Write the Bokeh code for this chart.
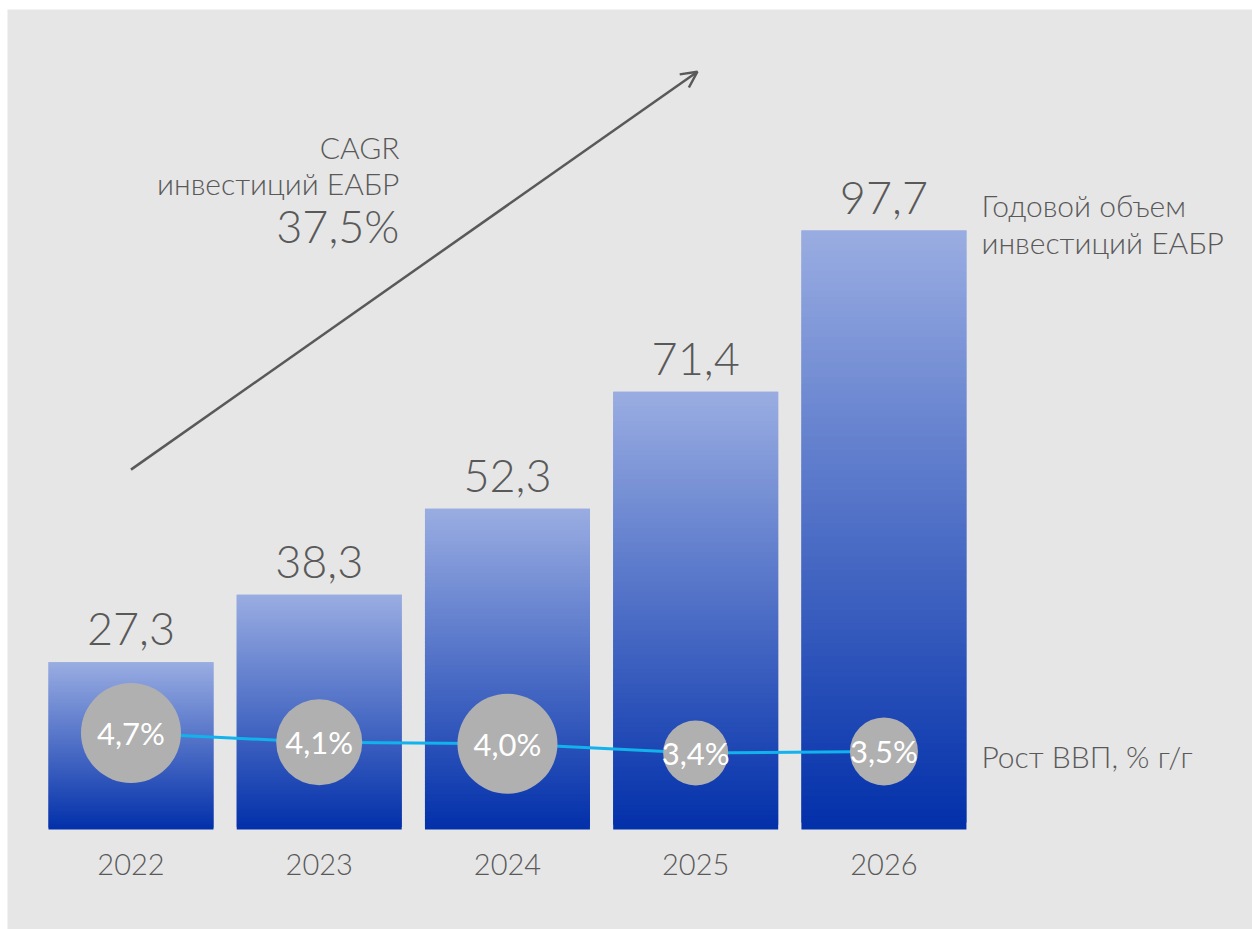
from bokeh.plotting import figure
from bokeh.models import Range1d, Arrow, OpenHead, ColumnDataSource
from bokeh.core.properties import value
from bokeh.embed import file_html
from bokeh.resources import INLINE

# ---- data ----
years = ["2022", "2023", "2024", "2025", "2026"]
investments = [27.3, 38.3, 52.3, 71.4, 97.7]          # Годовой объем инвестиций ЕАБР
gdp_growth = [4.7, 4.1, 4.0, 3.4, 3.5]                 # Рост ВВП, % г/г
gdp_labels = ["4,7%", "4,1%", "4,0%", "3,4%", "3,5%"]
inv_labels = ["27,3", "38,3", "52,3", "71,4", "97,7"]

# ---- styles ----
FONT = "Lato Light, Lato"
FONT_C = "Lato"
BG = "#e6e6e6"
TXT = "#595959"
TOP_C = (0x9a, 0xad, 0xe2)
BOT_C = (0x02, 0x30, 0xaa)
LINE_C = "#12b2ec"
CIRC_C = "#b0b0b0"
circle_sizes = [100, 86, 100, 65, 68]
BAR_W = 0.8765
W, H = 1252, 929

xs = list(range(len(years)))

p = figure(width=W, height=H, title=None,
           x_range=Range1d(-0.656, 5.958), y_range=Range1d(-16.31, 133.75),
           output_backend="svg", toolbar_location=None,
           x_axis_location=None, y_axis_location=None,
           min_border_left=7, min_border_top=9, min_border_right=0, min_border_bottom=0,
           background_fill_color=BG, border_fill_color="white", outline_line_color=None)
p.grid.visible = False
p.extra_y_ranges = {"gdp": Range1d(-8.076, 51.74)}

# ---- gradient bars (stacked overlapping slices, light at top, dark at bottom) ----
N = 90
L, R, B, T, C = [], [], [], [], []
for i, v in zip(xs, investments):
    for k in range(N):
        t = (k + 0.5) / N
        col = tuple(int(round(BOT_C[j] + (TOP_C[j] - BOT_C[j]) * t)) for j in range(3))
        L.append(i - BAR_W / 2)
        R.append(i + BAR_W / 2)
        B.append(v * k / N)
        T.append(v * min(k + 2, N) / N)
        C.append("#%02x%02x%02x" % col)
p.quad(left=L, right=R, bottom=B, top=T, fill_color=C, line_color=None)

# ---- bar value labels ----
src = ColumnDataSource(dict(x=xs, inv=investments, inv_lab=inv_labels, yr=years,
                            zero=[0] * len(xs), gdp=gdp_growth, gdp_lab=gdp_labels,
                            size=circle_sizes))
p.text(x="x", y="inv", text="inv_lab", source=src, text_align="center",
       text_baseline="alphabetic", y_offset=-33, text_font=value(FONT),
       text_font_size="45px", text_color=TXT)

# ---- year labels ----
p.text(x="x", y="zero", text="yr", source=src, text_align="center",
       text_baseline="alphabetic", y_offset=35, text_font=value(FONT),
       text_font_size="29px", text_color=TXT)

# ---- GDP growth line with circles ----
p.line(x="x", y="gdp", source=src, y_range_name="gdp", line_color=LINE_C, line_width=3)
p.scatter(x="x", y="gdp", source=src, y_range_name="gdp", size="size",
          fill_color=CIRC_C, line_color=None)
p.text(x="x", y="gdp", text="gdp_lab", source=src, y_range_name="gdp",
       text_align="center", text_baseline="middle", text_font=value(FONT_C),
       text_font_size="31px", text_color="white")

# ---- right-side series labels ----
last = len(xs) - 1
p.text(x=[last + BAR_W / 2] * 2, y=[investments[last]] * 2,
       text=["Годовой объем", "инвестиций ЕАБР"], x_offset=15, y_offset=[-26, 11],
       text_align="left", text_baseline="alphabetic", text_font=value(FONT),
       text_font_size="30px", text_color=TXT)
p.text(x=[last + BAR_W / 2], y=[gdp_growth[last]], y_range_name="gdp",
       text=["Рост ВВП, % г/г"], x_offset=15, y_offset=5,
       text_align="left", text_baseline="alphabetic", text_font=value(FONT),
       text_font_size="30px", text_color=TXT)

# ---- CAGR annotation ----
n_years = len(years) - 1
cagr = (investments[-1] / investments[0]) ** (1 / n_years) - 1
cagr_lab = ("%.1f%%" % (cagr * 100)).replace(".", ",")
p.text(x=[1.426] * 2, y=[95.74] * 2, text=["CAGR", "инвестиций ЕАБР"],
       y_offset=[-96, -60], text_align="right", text_baseline="alphabetic",
       text_font=value(FONT), text_font_size="30px", text_color=TXT)
p.text(x=[1.426], y=[95.74], text=[cagr_lab], y_offset=-17, text_align="right",
       text_baseline="alphabetic", text_font=value(FONT), text_font_size="45px",
       text_color=TXT)

p.add_layout(Arrow(end=OpenHead(size=16, line_color=TXT, line_width=2.5),
                   x_start=0, y_start=58.7, x_end=3.009, y_end=123.6,
                   line_color=TXT, line_width=2.5))

open("out.html", "w").write(file_html(p, INLINE))
